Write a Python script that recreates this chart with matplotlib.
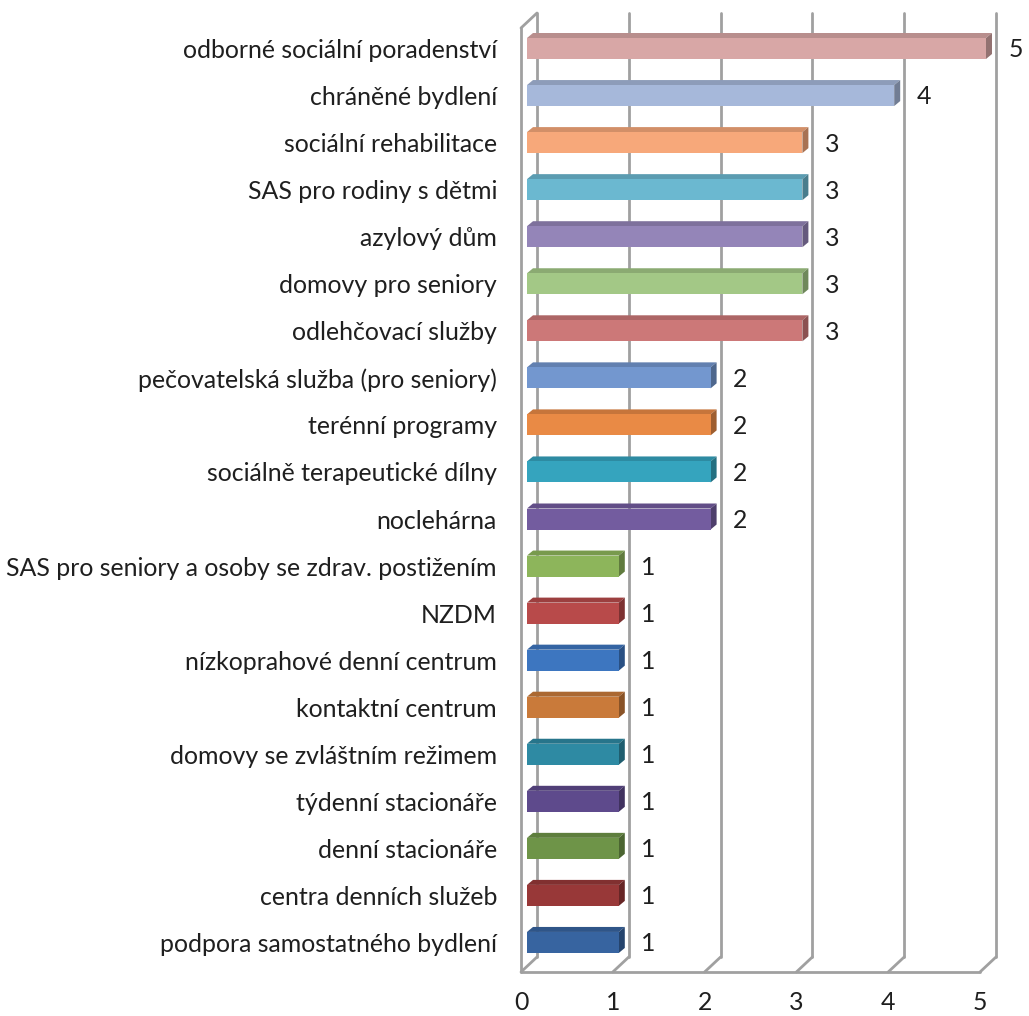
import matplotlib
matplotlib.use('Agg')
import matplotlib.pyplot as plt
from matplotlib.patches import Polygon
from matplotlib.colors import to_rgb

categories = [
    "odborné sociální poradenství",
    "chráněné bydlení",
    "sociální rehabilitace",
    "SAS pro rodiny s dětmi",
    "azylový dům",
    "domovy pro seniory",
    "odlehčovací služby",
    "pečovatelská služba (pro seniory)",
    "terénní programy",
    "sociálně terapeutické dílny",
    "noclehárna",
    "SAS pro seniory a osoby se zdrav. postižením",
    "NZDM",
    "nízkoprahové denní centrum",
    "kontaktní centrum",
    "domovy se zvláštním režimem",
    "týdenní stacionáře",
    "denní stacionáře",
    "centra denních služeb",
    "podpora samostatného bydlení",
]
values = [5, 4, 3, 3, 3, 3, 3, 2, 2, 2, 2, 1, 1, 1, 1, 1, 1, 1, 1, 1]
colors = [
    "#D8A7A6", "#A6B8DA", "#F7A87A", "#6BB8D0", "#9485B8", "#A3C886", "#CC7878",
    "#7397CF", "#E98A45", "#35A4BE", "#735C9F",
    "#8DB55B", "#B84A4A", "#3D76C0", "#C97A3A", "#2E8AA3", "#5E4A8C", "#6E9448",
    "#983838", "#3764A0",
]
xticks = [0, 1, 2, 3, 4, 5]

plt.rcParams['font.family'] = ['Lato', 'DejaVu Sans']

W, H = 1029, 1016
fig = plt.figure(figsize=(W / 100, H / 100), dpi=100)
X0, X5 = 521, 980      # front plane x pixels for 0 and 5
YT, YB = 28, 972       # front plane top/bottom pixels
ax = fig.add_axes([X0 / W, 1 - YB / H, (X5 - X0) / W, (YB - YT) / H])
ax.set_xlim(0, 5)
ppu = (X5 - X0) / 5.0
row = 47.05
c0 = 48.5
ybot = (YB - c0) / row
ytop = (YT - c0) / row
ax.set_ylim(ybot, ytop)

DX = 16 / ppu
DY = 15 / row
grid_kw = dict(color="#A0A0A0", lw=2.0, solid_capstyle='round', zorder=1, clip_on=False)

# back wall gridlines and floor diagonals
for t in xticks:
    ax.plot([t + DX, t + DX], [ytop - DY, ybot - DY], **grid_kw)
    ax.plot([t + DX, t], [ybot - DY, ybot], **grid_kw)
# floor front edge
ax.plot([0, 5], [ybot, ybot], **grid_kw)
# left wall
ax.plot([0, 0], [ytop, ybot], **grid_kw)
ax.plot([0, DX], [ytop, ytop - DY], **grid_kw)


def shade(c, f):
    r, g, b = to_rgb(c)
    return (r * f, g * f, b * f)


b0 = 6 / ppu
h = 10.5 / row
bdx = 6 / ppu
bdy = 5 / row
for i, (v, c) in enumerate(zip(values, colors)):
    front = [(b0, i - h), (b0 + v, i - h), (b0 + v, i + h), (b0, i + h)]
    top = [(b0, i - h), (b0 + v, i - h), (b0 + v + bdx, i - h - bdy), (b0 + bdx, i - h - bdy)]
    side = [(b0 + v, i - h), (b0 + v + bdx, i - h - bdy), (b0 + v + bdx, i + h - bdy), (b0 + v, i + h)]
    ax.add_patch(Polygon(top, closed=True, facecolor=shade(c, 0.85), edgecolor='none', zorder=3, clip_on=False))
    ax.add_patch(Polygon(side, closed=True, facecolor=shade(c, 0.68), edgecolor='none', zorder=3, clip_on=False))
    ax.add_patch(Polygon(front, closed=True, facecolor=c, edgecolor='none', zorder=4, clip_on=False))

fs = 17.9
text_color = "#1F1F1F"
for i, v in enumerate(values):
    ax.text(v + 0.39, i + 0.03, str(v), ha='center', va='center', fontsize=fs,
            color=text_color, zorder=5, clip_on=False)

ax.set_yticks(range(len(categories)))
ax.set_yticklabels(categories, fontsize=fs, color=text_color)
ax.set_xticks(xticks)
ax.set_xticklabels([str(t) for t in xticks], fontsize=fs, color=text_color)
ax.tick_params(axis='y', length=0, pad=17.3)
ax.tick_params(axis='x', length=0, pad=14)
for s in ax.spines.values():
    s.set_visible(False)
ax.patch.set_visible(False)

fig.savefig("out.png", dpi=100)
